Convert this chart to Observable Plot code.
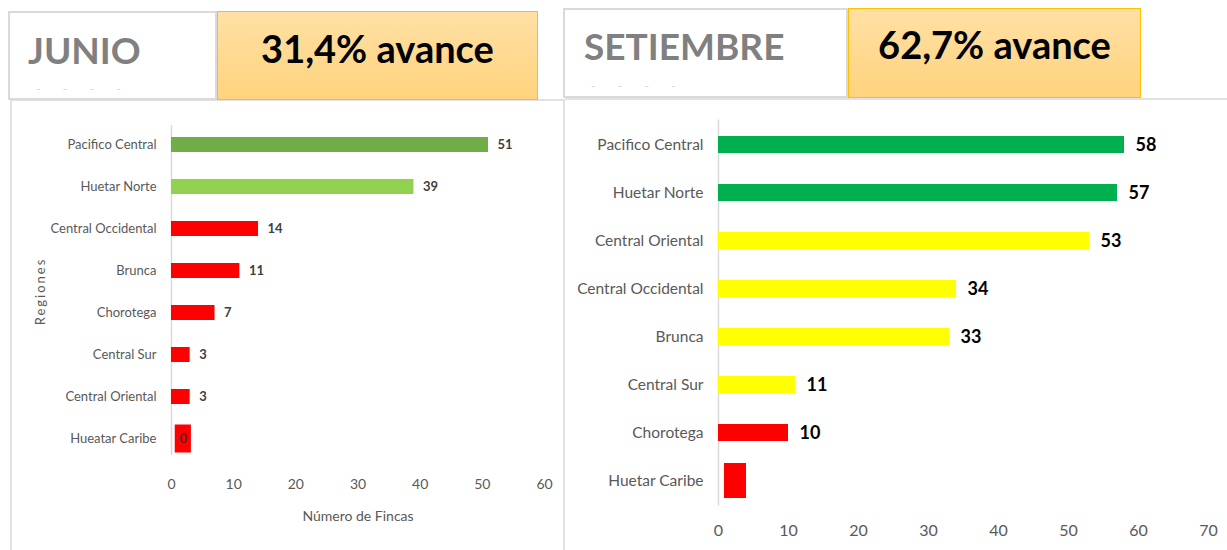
<!DOCTYPE html>
<html>
<head>
<meta charset="utf-8">
<script src="https://cdn.jsdelivr.net/npm/d3@7"></script>
<script src="https://cdn.jsdelivr.net/npm/@observablehq/plot@0.6"></script>
<style>
  body { margin: 0; background: #fff; width: 1227px; height: 550px; overflow: hidden; position: relative;
         font-family: Lato, "Liberation Sans", sans-serif; }
  .abs { position: absolute; box-sizing: border-box; }
  .whitebox { background: #fff; border: 2px solid #dadada; }
  .orangebox { border: 1px solid #FFC000; background: linear-gradient(#FFE0A4, #FFD37E); }
  .month { color: #808080; font-weight: bold; font-size: 37px; line-height: 38px; white-space: nowrap; }
  .avance { color: #000; font-weight: bold; font-size: 38px; line-height: 38px; white-space: nowrap; text-align: center; }
  .dots { color: #d4d4d4; font-size: 12px; letter-spacing: 2px; white-space: pre; }
  .panel { border-top: 2px solid #e2e2e2; }
</style>
</head>
<body>
<script>
// ---------- DATA ----------
const junioTitle = "JUNIO";
const junioAvance = "31,4% avance";
const junioRegions = ["Pacifico Central", "Huetar Norte", "Central Occidental", "Brunca", "Chorotega", "Central Sur", "Central Oriental", "Hueatar Caribe"];
const junioValues = [51, 39, 14, 11, 7, 3, 3, 0];
const junioTicks = [0, 10, 20, 30, 40, 50, 60];
const junioCaribeStub = [0.6, 3.2];   // extent of the drawn stub for the zero bar (data units)

const setTitle = "SETIEMBRE";
const setAvance = "62,7% avance";
const setRegions = ["Pacifico Central", "Huetar Norte", "Central Oriental", "Central Occidental", "Brunca", "Central Sur", "Chorotega", "Huetar Caribe"];
const setValues = [58, 57, 53, 34, 33, 11, 10, null];
const setTicks = [0, 10, 20, 30, 40, 50, 60, 70];
const setCaribeStub = [0.85, 4.0];

// ---------- STYLES ----------
const FONT = 'Lato, "Liberation Sans", sans-serif';
const junioPalette = ["#70AD47", "#92D050", "#FF0000", "#FF0000", "#FF0000", "#FF0000", "#FF0000", "#FF0000"];
const setPalette = ["#00B050", "#00B050", "#FFFF00", "#FFFF00", "#FFFF00", "#FFFF00", "#FF0000", "#FF0000"];

function el(cls, css, text) {
  const d = document.createElement("div");
  d.className = "abs " + cls;
  Object.assign(d.style, css);
  if (text != null) d.textContent = text;
  document.body.appendChild(d);
  return d;
}

// panels (chart frames)
el("panel", {left: "10px", top: "99px", width: "555px", height: "460px", borderLeft: "2px solid #e2e2e2", borderRight: "2px solid #e2e2e2"});
el("panel", {left: "565px", top: "98px", width: "662px", height: "460px"});

// header boxes
el("whitebox", {left: "8px", top: "11px", width: "209px", height: "89px"});
el("orangebox", {left: "217px", top: "11px", width: "321px", height: "89px"});
el("month", {left: "28px", top: "31px"}, junioTitle);
el("avance", {left: "217px", top: "29px", width: "321px"}, junioAvance);
el("dots", {left: "36px", top: "81px"}, "-    -    -    -");

el("whitebox", {left: "563px", top: "8px", width: "285px", height: "90px"});
el("orangebox", {left: "848px", top: "8px", width: "293px", height: "90px"});
el("month", {left: "584px", top: "27px"}, setTitle);
el("avance", {left: "848px", top: "25px", width: "293px"}, setAvance);
el("dots", {left: "591px", top: "78px"}, "-    -    -    -");

// ---------- LEFT CHART ----------
const junio = junioRegions.map((r, i) => ({region: r, value: junioValues[i], color: junioPalette[i]}));
const junioMain = junio.filter(d => d.region !== "Hueatar Caribe");
const junioCar = junio.filter(d => d.region === "Hueatar Caribe").map(d => ({...d, x1: junioCaribeStub[0], x2: junioCaribeStub[1]}));

const left = Plot.plot({
  width: 555, height: 450,
  marginLeft: 161, marginRight: 21, marginTop: 8, marginBottom: 76,
  style: {fontFamily: FONT, fontSize: "13px", color: "#595959", background: "transparent", overflow: "visible"},
  x: {domain: [0, 60]},
  y: {domain: junioRegions, padding: 0.645},
  marks: [
    Plot.ruleX([0], {stroke: "#d9d9d9", strokeWidth: 1.5, insetTop: 17, insetBottom: 19}),
    Plot.barX(junioMain, {x: "value", y: "region", fill: "color"}),
    Plot.barX(junioCar, {x1: "x1", x2: "x2", y: "region", fill: "color", insetTop: -6.5, insetBottom: -6.5}),
    Plot.text(junioMain, {x: "value", y: "region", text: d => String(d.value), dx: 9, textAnchor: "start",
      fontWeight: "bold", fill: "#404040", fontSize: 13}),
    Plot.text(junioCar, {x: d => (d.x1 + d.x2) / 2, y: "region", text: d => String(d.value),
      fontWeight: "bold", fill: "#5a2424", fontSize: 13}),
    Plot.axisX({ticks: junioTicks, tickSize: 0, tickPadding: 5, fontSize: 14, fill: "#595959",
      label: "Número de Fincas", labelAnchor: "center", labelArrow: "none", labelOffset: 46}),
    Plot.axisY({tickSize: 0, tickPadding: 15, fontSize: 13, fill: "#595959",
      label: "Regiones", labelAnchor: "center", labelArrow: "none", labelOffset: 136})
  ]
});
left.style.position = "absolute";
left.style.left = "10px";
left.style.top = "100px";
document.body.appendChild(left);

// ---------- RIGHT CHART ----------
const setd = setRegions.map((r, i) => ({region: r, value: setValues[i], color: setPalette[i]}));
const setMain = setd.filter(d => d.value != null);
const setCar = setd.filter(d => d.region === "Huetar Caribe").map(d => ({...d, x1: setCaribeStub[0], x2: setCaribeStub[1]}));

const right = Plot.plot({
  width: 662, height: 450,
  marginLeft: 153, marginRight: 19, marginTop: 5.5, marginBottom: 29.5,
  style: {fontFamily: FONT, fontSize: "16px", color: "#595959", background: "transparent", overflow: "visible"},
  x: {domain: [0, 70]},
  y: {domain: setRegions, padding: 0.645},
  marks: [
    Plot.ruleX([0], {stroke: "#d9d9d9", strokeWidth: 1.5, insetTop: 14, insetBottom: 15}),
    Plot.barX(setMain, {x: "value", y: "region", fill: "color"}),
    Plot.barX(setCar, {x1: "x1", x2: "x2", y: "region", fill: "color", insetTop: -9, insetBottom: -9}),
    Plot.text(setMain, {x: "value", y: "region", text: d => String(d.value), dx: 11, textAnchor: "start",
      fontWeight: "bold", fill: "#000", fontSize: 18}),
    Plot.axisX({ticks: setTicks, tickSize: 0, tickPadding: 4, fontSize: 16, fill: "#595959", label: null}),
    Plot.axisY({tickSize: 0, tickPadding: 15, fontSize: 15.5, fill: "#595959", label: null})
  ]
});
right.style.position = "absolute";
right.style.left = "565px";
right.style.top = "100px";
document.body.appendChild(right);

// letter-spacing for the rotated axis title
left.querySelectorAll("text").forEach(t => {
  if (t.textContent === "Regiones") {
    t.style.letterSpacing = "2px";
    t.style.fontSize = "13px";
  }
});
</script>
</body>
</html>
